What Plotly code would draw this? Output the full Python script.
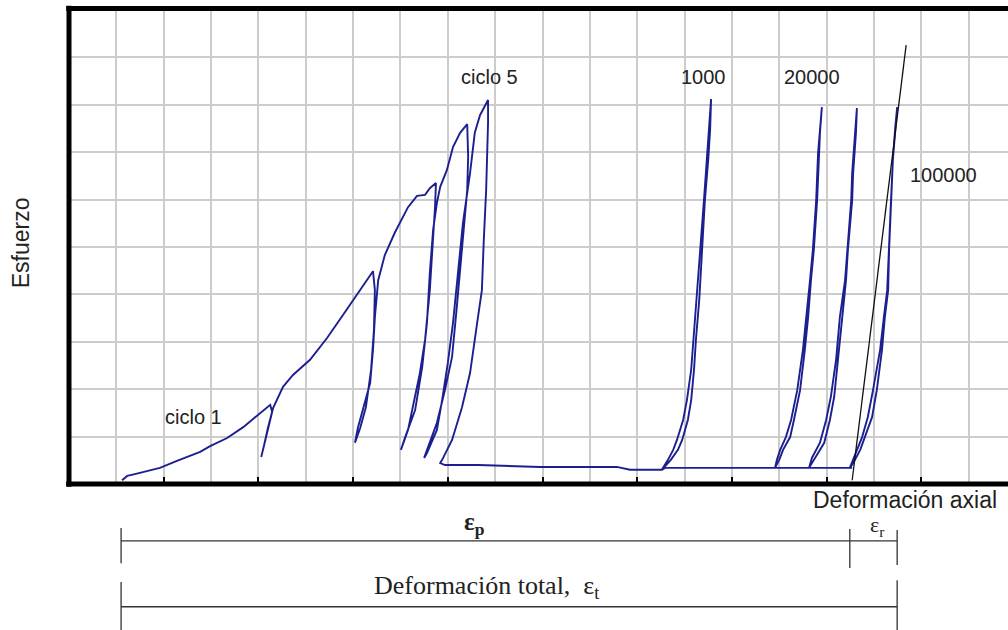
import plotly.graph_objects as go

# ---------------- data (grid units: 1 unit = one grid square) ----------------
# first five load/unload cycles followed by the long accumulated-strain base line
main_x = [1.12, 1.23, 1.39, 1.92, 2.28, 2.77, 2.98, 3.34, 3.68, 4.03, 4.25,
          4.29, 4.20, 4.12, 4.06,
          4.12, 4.20, 4.31, 4.52, 4.73, 5.09, 5.45, 5.79, 6.15, 6.42,
          6.46, 6.44, 6.38, 6.27, 6.15, 6.04,
          6.10, 6.23, 6.36, 6.42, 6.46, 6.53, 6.67, 6.88, 7.16, 7.35, 7.52, 7.62, 7.75,
          7.73, 7.69, 7.62, 7.52, 7.41, 7.26, 7.16, 7.01,
          7.10, 7.31, 7.46, 7.56, 7.62, 7.69, 7.77, 7.84, 7.98, 8.11, 8.26, 8.41,
          8.43, 8.41, 8.32, 8.26, 8.19, 8.09, 7.94, 7.77, 7.58, 7.50,
          7.56, 7.77, 7.88, 8.00, 8.11, 8.22, 8.32, 8.47, 8.57, 8.68, 8.85,
          8.85, 8.81, 8.76, 8.72, 8.62, 8.47, 8.30, 8.09, 7.88, 7.84,
          7.94, 8.64, 9.95, 11.57, 11.85, 12.52, 12.59, 16.54]
main_y = [0.08, 0.17, 0.21, 0.34, 0.49, 0.68, 0.80, 0.97, 1.20, 1.48, 1.67,
          1.52, 1.14, 0.76, 0.57,
          0.82, 1.18, 1.60, 2.05, 2.30, 2.62, 3.08, 3.57, 4.09, 4.49,
          4.09, 3.25, 2.41, 1.62, 1.18, 0.87,
          1.18, 1.67, 2.13, 2.83, 3.52, 4.30, 4.83, 5.30, 5.84, 6.08, 6.10, 6.24, 6.35,
          5.84, 5.15, 4.09, 3.04, 2.34, 1.62, 1.14, 0.72,
          0.99, 1.56, 2.47, 3.40, 4.45, 5.36, 5.93, 6.27, 6.62, 7.11, 7.41, 7.59,
          6.90, 6.20, 5.15, 4.45, 3.73, 2.68, 1.98, 1.29, 0.78, 0.55,
          0.65, 1.14, 1.77, 2.55, 3.40, 4.45, 5.51, 6.56, 7.41, 7.78, 8.10,
          7.62, 6.20, 5.15, 4.09, 3.40, 2.34, 1.62, 0.93, 0.51, 0.44,
          0.40, 0.40, 0.36, 0.36, 0.30, 0.30, 0.34, 0.34]

# narrow hysteresis loops after N cycles: stress levels, loading and unloading strain
loop1000_y = [0.30, 0.51, 0.72, 0.93, 1.35, 1.77, 2.41, 3.04, 3.88, 4.94, 5.99, 6.84, 7.47, 8.12]
loop1000_load = [12.52, 12.71, 12.86, 12.95, 13.07, 13.14, 13.20, 13.24, 13.31, 13.37, 13.43, 13.50, 13.54, 13.56]
loop1000_unload = [12.52, 12.65, 12.76, 12.84, 12.97, 13.05, 13.14, 13.20, 13.26, 13.33, 13.41, 13.47, 13.52, 13.56]

loop20000_y = [0.34, 0.51, 0.72, 0.99, 1.35, 1.98, 2.83, 3.52, 4.30, 4.94, 5.99, 6.98, 7.41, 7.95]
loop20000_load = [14.91, 15.00, 15.08, 15.23, 15.31, 15.44, 15.54, 15.61, 15.67, 15.73, 15.80, 15.84, 15.86, 15.90]
loop20000_unload = [14.91, 14.95, 15.02, 15.14, 15.25, 15.38, 15.50, 15.57, 15.65, 15.71, 15.78, 15.82, 15.86, 15.90]

loop50000_y = [0.34, 0.55, 0.87, 1.35, 1.84, 2.62, 3.52, 4.30, 4.94, 5.99, 6.56, 7.41, 7.93]
loop50000_load = [15.63, 15.76, 15.95, 16.07, 16.16, 16.24, 16.33, 16.41, 16.45, 16.54, 16.56, 16.62, 16.64]
loop50000_unload = [15.63, 15.69, 15.86, 15.99, 16.09, 16.20, 16.28, 16.39, 16.43, 16.52, 16.54, 16.60, 16.64]

loop100000_y = [0.34, 0.44, 0.72, 0.99, 1.41, 1.98, 2.83, 3.52, 4.09, 4.94, 5.99, 6.84, 7.53, 7.95]
loop100000_load = [16.49, 16.56, 16.71, 16.81, 16.96, 17.06, 17.17, 17.23, 17.30, 17.32, 17.36, 17.40, 17.45, 17.49]
loop100000_unload = [16.49, 16.52, 16.64, 16.75, 16.87, 16.98, 17.13, 17.21, 17.28, 17.32, 17.36, 17.40, 17.45, 17.49]

# resilient (elastic) modulus line
mod_x = [16.54, 17.68]
mod_y = [0.08, 9.26]

# cycle labels
label_text = ["ciclo 1", "ciclo 5", "1000", "20000", "100000"]
label_x = [2.62, 8.89, 13.39, 15.69, 18.46]
label_y = [1.41, 8.59, 8.59, 8.59, 6.52]

# strain dimension brackets (x positions in grid units)
eps_start = 1.10
eps_p_end = 16.49
eps_t_end = 17.49

# ---------------- figure ----------------
BLUE = "#1c1f8f"
fig = go.Figure()

fig.add_trace(go.Scatter(x=main_x, y=main_y, mode="lines",
                         line=dict(color=BLUE, width=1.9), hoverinfo="skip"))

for ly, lload, lunload in [(loop1000_y, loop1000_load, loop1000_unload),
                           (loop20000_y, loop20000_load, loop20000_unload),
                           (loop50000_y, loop50000_load, loop50000_unload),
                           (loop100000_y, loop100000_load, loop100000_unload)]:
    xs = list(lload) + list(reversed(lunload))
    ys = list(ly) + list(reversed(ly))
    fig.add_trace(go.Scatter(x=xs, y=ys, mode="lines",
                             line=dict(color=BLUE, width=1.9), hoverinfo="skip"))

fig.add_trace(go.Scatter(x=mod_x, y=mod_y, mode="lines",
                         line=dict(color="#111111", width=1.3), hoverinfo="skip"))

annotations = []
for t, x, y in zip(label_text, label_x, label_y):
    annotations.append(dict(x=x, y=y, xref="x", yref="y", text=t, showarrow=False,
                            font=dict(family="Liberation Sans, Arial", size=20, color="#222222"),
                            xanchor="center", yanchor="middle"))

annotations.append(dict(x=-0.051, y=0.508, xref="paper", yref="paper", text="Esfuerzo",
                        textangle=-90, showarrow=False,
                        font=dict(family="Liberation Sans, Arial", size=23, color="#222222"),
                        xanchor="center", yanchor="middle"))
annotations.append(dict(x=17.66, y=-0.033, xref="x", yref="paper", text="Deformación axial",
                        showarrow=False,
                        font=dict(family="Liberation Sans, Arial", size=23, color="#222222"),
                        xanchor="center", yanchor="middle"))

SERIF = dict(family="Liberation Serif, Times New Roman", size=25, color="#222222")
annotations.append(dict(x=8.57, y=-0.084, xref="x", yref="paper",
                        text="<b>ε<sub>p</sub></b>", showarrow=False, font=SERIF,
                        xanchor="center", yanchor="middle"))
annotations.append(dict(x=17.06, y=-0.088, xref="x", yref="paper",
                        text="ε<sub>r</sub>", showarrow=False,
                        font=dict(family="Liberation Serif, Times New Roman", size=22, color="#222222"),
                        xanchor="center", yanchor="middle"))
annotations.append(dict(x=8.81, y=-0.217, xref="x", yref="paper",
                        text="Deformación total,\u00a0\u00a0ε<sub>t</sub>", showarrow=False,
                        font=dict(family="Liberation Serif, Times New Roman", size=26, color="#222222"),
                        xanchor="center", yanchor="middle"))

shapes = []
border = dict(color="black", width=5)
shapes.append(dict(type="line", xref="paper", yref="paper", x0=0, x1=0, y0=-0.006, y1=1.009, line=border))
shapes.append(dict(type="line", xref="paper", yref="paper", x0=-0.003, x1=1, y0=0, y1=0, line=border))
shapes.append(dict(type="line", xref="paper", yref="paper", x0=-0.003, x1=1, y0=1.003, y1=1.003, line=border))

dim = dict(color="#333333", width=1.3)
# eps_p / eps_r bracket
shapes.append(dict(type="line", xref="x", yref="paper", x0=eps_start, x1=eps_t_end, y0=-0.120, y1=-0.120, line=dim))
shapes.append(dict(type="line", xref="x", yref="paper", x0=eps_start, x1=eps_start, y0=-0.093, y1=-0.167, line=dim))
shapes.append(dict(type="line", xref="x", yref="paper", x0=eps_p_end, x1=eps_p_end, y0=-0.095, y1=-0.177, line=dim))
shapes.append(dict(type="line", xref="x", yref="paper", x0=eps_t_end, x1=eps_t_end, y0=-0.097, y1=-0.171, line=dim))
# total strain bracket
shapes.append(dict(type="line", xref="x", yref="paper", x0=eps_start, x1=eps_t_end, y0=-0.259, y1=-0.259, line=dim))
shapes.append(dict(type="line", xref="x", yref="paper", x0=eps_start, x1=eps_start, y0=-0.207, y1=-0.310, line=dim))
shapes.append(dict(type="line", xref="x", yref="paper", x0=eps_t_end, x1=eps_t_end, y0=-0.203, y1=-0.310, line=dim))

GRID = "#cccccc"
fig.update_layout(
    width=1008, height=630,
    margin=dict(l=69, r=0, t=10, b=146),
    paper_bgcolor="white", plot_bgcolor="white",
    showlegend=False,
    annotations=annotations,
    shapes=shapes,
    xaxis=dict(range=[0, 939 / 47.35], tick0=0, dtick=2, ticks="inside", ticklen=7,
               tickwidth=2, tickcolor="black", showticklabels=False,
               showgrid=True, gridcolor=GRID, gridwidth=1.6, zeroline=False, showline=False,
               minor=dict(dtick=1, tick0=0, showgrid=True, gridcolor=GRID, gridwidth=1.6, ticks=""),
               fixedrange=True),
    yaxis=dict(range=[0, 10], tick0=0, dtick=1, ticks="", showticklabels=False,
               showgrid=True, gridcolor=GRID, gridwidth=1.6, zeroline=False, showline=False,
               fixedrange=True),
)

fig.write_html("out.html")
